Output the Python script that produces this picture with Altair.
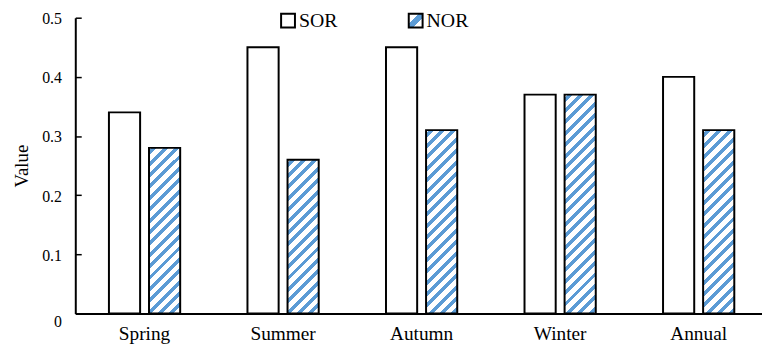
import altair as alt
import pandas as pd

# ---- data ----
seasons = ["Spring", "Summer", "Autumn", "Winter", "Annual"]
sor_values = [0.34, 0.45, 0.45, 0.37, 0.40]
nor_values = [0.28, 0.26, 0.31, 0.37, 0.31]
series = ["SOR", "NOR"]
y_ticks = [0, 0.1, 0.2, 0.3, 0.4, 0.5]

# ---- style ----
BLUE = "#5b9bd5"
FONT = "Liberation Serif"
PLOT_W = 694
PLOT_H = 299
Y_MAX = 0.5
BAR_W = 31.5      # pixel width of one bar (from the band scales below)
PERIOD = 11.5     # vertical repeat of the hatch stripes (px)
STRIPE = 5.0      # vertical thickness of a blue stripe (px)

rows = []
for s, a, b in zip(seasons, sor_values, nor_values):
    rows.append({"season": s, "type": "SOR", "value": a})
    rows.append({"season": s, "type": "NOR", "value": b})
df = pd.DataFrame(rows)


def hatch(value):
    """Diagonal '/' stripes as a linear gradient sized to the bar's box."""
    h = value / Y_MAX * PLOT_H
    w = BAR_W
    L = w + h
    r = h / w
    k = (1 + r) / (1 + r * r)
    stops = [{"offset": 0, "color": "white"}]
    i = 0
    while True:
        s = i * PERIOD + 3
        if s >= L:
            break
        e = min(s + STRIPE, L)
        so, eo = round(s / L, 5), round(e / L, 5)
        stops += [
            {"offset": so, "color": "white"},
            {"offset": so, "color": BLUE},
            {"offset": eo, "color": BLUE},
            {"offset": eo, "color": "white"},
        ]
        i += 1
    stops.append({"offset": 1, "color": "white"})
    return {"gradient": "linear", "x1": 0, "y1": 0, "x2": k, "y2": k * r, "stops": stops}


conditions = [
    {"test": f"datum.type == 'NOR' && datum.season == '{s}'", "value": hatch(v)}
    for s, v in zip(seasons, nor_values)
]

legend_hatch = (
    "{gradient: 'linear', x1: 0, y1: 0, x2: 1, y2: 1, stops: ["
    "{offset: 0, color: 'white'}, {offset: 0.36, color: 'white'}, "
    f"{{offset: 0.36, color: '{BLUE}'}}, {{offset: 0.64, color: '{BLUE}'}}, "
    "{offset: 0.64, color: 'white'}, {offset: 1, color: 'white'}]}"
)

chart = alt.Chart(df).mark_bar(stroke="black", strokeWidth=2).encode(
    x=alt.X(
        "season:N",
        sort=seasons,
        scale=alt.Scale(range=[0, 700], paddingInner=0.4857, paddingOuter=0.2429),
        axis=alt.Axis(
            title=None, ticks=False, tickSize=0, labelPadding=11, labelAngle=0,
            domainColor="black", domainWidth=2, grid=False,
            labelFont=FONT, labelFontSize=19.5, labelColor="black",
        ),
    ),
    xOffset=alt.XOffset(
        "type:N", sort=series,
        scale=alt.Scale(domain=series, paddingInner=0.222, paddingOuter=0),
    ),
    y=alt.Y(
        "value:Q",
        scale=alt.Scale(domain=[0, Y_MAX], nice=False),
        axis=alt.Axis(
            title="Value", values=y_ticks, format="~g",
            ticks=False, tickSize=0,
            grid=True, gridColor="black", gridWidth=1.5, gridDash=[6, 3000], gridOpacity=1,
            domainColor="black", domainWidth=2,
            labelPadding=14, labelFont=FONT, labelFontSize=16, labelColor="black",
            labelOffset={"condition": {"test": "datum.value == 0", "value": 8}, "value": 1},
            titleFont=FONT, titleFontSize=19, titleFontWeight="normal", titleColor="black",
            titlePadding=10,
        ),
    ),
    fill=alt.Fill(
        "type:N",
        scale=alt.Scale(domain=series, range=["white", alt.ExprRef(legend_hatch)]),
        condition=conditions,
        legend=alt.Legend(
            title=None, orient="none", legendX=205, legendY=-7, direction="horizontal",
            symbolType="square", symbolSize=196, symbolStrokeColor="black",
            symbolStrokeWidth=2, symbolOpacity=1,
            labelFont=FONT, labelFontSize=20, labelColor="black",
            labelOffset=1, columnPadding=68,
        ),
    ),
).properties(
    width=PLOT_W,
    height=PLOT_H,
    autosize=alt.AutoSizeParams(type="none"),
    padding={"left": 68, "top": 8, "right": 0, "bottom": 34},
).configure_view(stroke=None)

chart.save("out.html", embed_options={"renderer": "svg", "actions": False})
